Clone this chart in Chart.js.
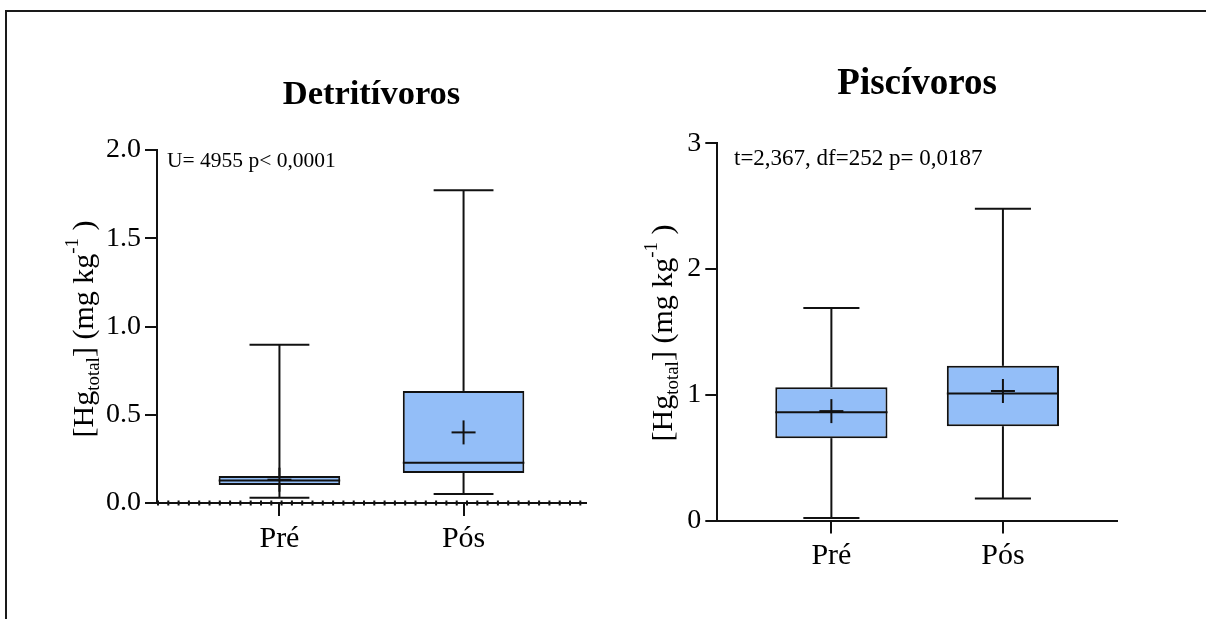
<!DOCTYPE html>
<html lang="pt">
<head>
<meta charset="utf-8">
<title>Hg total — Detritívoros e Piscívoros</title>
<script src="https://cdn.jsdelivr.net/npm/chart.js@4.4.1/dist/chart.umd.min.js"></script>
<style>
  html, body { margin: 0; padding: 0; background: #fff; }
  #painel { position: relative; width: 1206px; height: 619px; overflow: hidden; background: #fff; }
  #moldura { position: absolute; left: 5px; top: 10px; width: 1300px; height: 700px;
             border-top: 2px solid #1a1a1a; border-left: 2px solid #1a1a1a; }
  canvas { position: absolute; top: 0; }
  #graficoDet { left: 0; }
  #graficoPis { left: 603px; }
</style>
</head>
<body>
<div id="painel">
  <div id="moldura"></div>
  <canvas id="graficoDet" width="603" height="619"></canvas>
  <canvas id="graficoPis" width="603" height="619"></canvas>
</div>
<script>
// Grupos comparados
const grupos = ['Pré', 'Pós'];

// Detritívoros: mínimo, quartis, máximo e média de [Hg total] (mg kg-1)
const detMinimo  = [0.030, 0.051];
const detQ1      = [0.102, 0.170];
const detMediana = [0.128, 0.228];
const detQ3      = [0.153, 0.635];
const detMaximo  = [0.896, 1.772];
const detMedia   = [0.132, 0.400];
const detTicksY  = [0, 0.5, 1.0, 1.5, 2.0];

// Piscívoros
const pisMinimo  = [0.020, 0.175];
const pisQ1      = [0.655, 0.750];
const pisMediana = [0.860, 1.010];
const pisQ3      = [1.060, 1.230];
const pisMaximo  = [1.690, 2.480];
const pisMedia   = [0.870, 1.030];
const pisTicksY  = [0, 1, 2, 3];

// Posição de cada grupo no eixo x
const posX = grupos.map((g, i) => i + 1);

const SERIF = '"Liberation Serif", "Times New Roman", Times, serif';
const TRACO = '#111111';
const AZUL  = '#93BEF8';
const X_MIN = 0.335;
const X_MAX = 2.665;

// Bigodes, mediana e média (+) desenhados pelas escalas do gráfico
const bigodes = {
  id: 'bigodes',
  afterDatasetsDraw(chart, args, o) {
    const { ctx, scales: { x, y } } = chart;
    const meta = chart.getDatasetMeta(0);
    const linha = (x0, y0, x1, y1) => { ctx.beginPath(); ctx.moveTo(x0, y0); ctx.lineTo(x1, y1); ctx.stroke(); };
    ctx.save();
    ctx.strokeStyle = TRACO;
    ctx.lineWidth = 2;
    posX.forEach((v, i) => {
      const xc = x.getPixelForValue(v);
      const meiaTampa = x.getPixelForValue(v + o.tampa / 2) - xc;
      const yMin = y.getPixelForValue(o.minimo[i]);
      const yMax = y.getPixelForValue(o.maximo[i]);
      linha(xc, y.getPixelForValue(o.q1[i]), xc, yMin);
      linha(xc, y.getPixelForValue(o.q3[i]), xc, yMax);
      linha(xc - meiaTampa, yMin, xc + meiaTampa, yMin);
      linha(xc - meiaTampa, yMax, xc + meiaTampa, yMax);
      const barra = meta.data[i];
      const yMed = y.getPixelForValue(o.mediana[i]);
      linha(barra.x - barra.width / 2, yMed, barra.x + barra.width / 2, yMed);
      const yMedia = y.getPixelForValue(o.media[i]);
      linha(xc - o.cruz, yMedia, xc + o.cruz, yMedia);
      linha(xc, yMedia - o.cruz, xc, yMedia + o.cruz);
    });
    ctx.restore();
  }
};

// Título do eixo y com subscrito e sobrescrito
const tituloEixoY = {
  id: 'tituloEixoY',
  afterDraw(chart, args, o) {
    const ctx = chart.ctx;
    const T = 30, t = 19;
    const partes = [
      { s: '[Hg', f: T, dy: 0 },
      { s: 'total', f: t, dy: 6 },
      { s: '] (mg kg', f: T, dy: 0 },
      { s: '-1', f: t, dy: -15 },
      { s: ' )', f: T, dy: 0 }
    ];
    ctx.save();
    ctx.translate(o.x, o.y);
    ctx.rotate(-Math.PI / 2);
    ctx.fillStyle = '#000';
    ctx.textBaseline = 'alphabetic';
    ctx.textAlign = 'left';
    let total = 0;
    partes.forEach(p => { ctx.font = p.f + 'px ' + SERIF; p.w = ctx.measureText(p.s).width; total += p.w; });
    let cx = -total / 2;
    partes.forEach(p => { ctx.font = p.f + 'px ' + SERIF; ctx.fillText(p.s, cx, p.dy); cx += p.w; });
    ctx.restore();
  }
};

// Resultado do teste estatístico no canto do gráfico
const teste = {
  id: 'teste',
  afterDraw(chart, args, o) {
    const ctx = chart.ctx;
    ctx.save();
    ctx.fillStyle = '#000';
    ctx.font = o.tamanho + 'px ' + SERIF;
    ctx.textBaseline = 'middle';
    ctx.textAlign = 'left';
    ctx.fillText(o.texto, o.x, o.y);
    ctx.restore();
  }
};

function grafico(id, c) {
  const datasets = [{
    type: 'bar',
    label: 'intervalo interquartil',
    data: posX.map((x, i) => ({ x, y: [c.q1[i], c.q3[i]] })),
    backgroundColor: AZUL,
    borderColor: TRACO,
    borderWidth: 2,
    borderSkipped: false,
    barPercentage: c.caixa,
    categoryPercentage: 1,
    order: 2
  }];
  if (c.linhaZero) {
    datasets.push({
      type: 'line',
      label: 'zero',
      data: [{ x: X_MIN, y: 0 }, { x: X_MAX, y: 0 }],
      borderColor: TRACO,
      borderWidth: 5,
      borderDash: [2, 8.3],
      pointRadius: 0,
      clip: false,
      order: 1
    });
  }
  return new Chart(document.getElementById(id), {
    type: 'bar',
    data: { datasets },
    options: {
      responsive: false,
      animation: false,
      events: [],
      layout: { padding: { left: 0, top: 0, right: c.padDireita, bottom: 0 } },
      plugins: {
        legend: { display: false },
        tooltip: { enabled: false },
        title: {
          display: true,
          text: c.titulo,
          fullSize: false,
          color: '#000',
          font: { family: SERIF, size: c.tamTitulo, weight: 'bold', lineHeight: 1.2 },
          padding: { top: c.titTopo, bottom: c.titBase }
        },
        bigodes: {
          minimo: c.minimo, q1: c.q1, mediana: c.mediana, q3: c.q3, maximo: c.maximo, media: c.media,
          tampa: c.tampa, cruz: 12
        },
        tituloEixoY: { x: c.eixoYx, y: c.eixoYy },
        teste: { texto: c.teste, x: c.testeX, y: c.testeY, tamanho: c.testeTam }
      },
      scales: {
        x: {
          type: 'linear',
          min: X_MIN,
          max: X_MAX,
          offset: false,
          afterBuildTicks: s => { s.ticks = posX.map(v => ({ value: v })); },
          afterFit: s => { s.height = c.alturaX; },
          ticks: {
            callback: v => grupos[v - 1] ?? '',
            color: '#000',
            font: { family: SERIF, size: 30 },
            padding: 5,
            autoSkip: false,
            maxRotation: 0
          },
          grid: { offset: false, drawOnChartArea: false, drawTicks: true, tickLength: 13, color: TRACO, lineWidth: 2 },
          border: { display: true, color: TRACO, width: 2 }
        },
        y: {
          type: 'linear',
          min: 0,
          max: c.yMax,
          afterBuildTicks: s => { s.ticks = c.ticksY.map(v => ({ value: v })); },
          afterFit: s => { s.width = c.larguraY; },
          ticks: {
            callback: c.formato,
            color: '#000',
            font: { family: SERIF, size: 28 },
            padding: 4
          },
          grid: { drawOnChartArea: false, drawTicks: true, tickLength: 12, color: TRACO, lineWidth: 2 },
          border: { display: true, color: TRACO, width: 2 }
        }
      }
    },
    plugins: [bigodes, tituloEixoY, teste]
  });
}

grafico('graficoDet', {
  titulo: 'Detritívoros', tamTitulo: 34.5, titTopo: 74, titBase: 34.6,
  minimo: detMinimo, q1: detQ1, mediana: detMediana, q3: detQ3, maximo: detMaximo, media: detMedia,
  ticksY: detTicksY, yMax: 2, formato: v => v.toFixed(1),
  larguraY: 157, alturaX: 116, padDireita: 17,
  caixa: 0.66, tampa: 0.325, linhaZero: true,
  eixoYx: 93, eixoYy: 329,
  teste: 'U= 4955 p< 0,0001', testeX: 167, testeY: 161, testeTam: 21.5
});

grafico('graficoPis', {
  titulo: 'Piscívoros', tamTitulo: 37, titTopo: 62, titBase: 36.9,
  minimo: pisMinimo, q1: pisQ1, mediana: pisMediana, q3: pisQ3, maximo: pisMaximo, media: pisMedia,
  ticksY: pisTicksY, yMax: 3, formato: v => String(v),
  larguraY: 114.3, alturaX: 98.5, padDireita: 89,
  caixa: 0.654, tampa: 0.327, linhaZero: false,
  eixoYx: 69, eixoYy: 333,
  teste: 't=2,367, df=252 p= 0,0187', testeX: 131, testeY: 159, testeTam: 23
});
</script>
</body>
</html>
